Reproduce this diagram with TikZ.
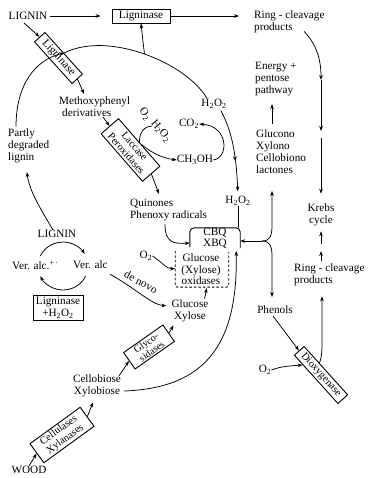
\documentclass[tikz,border=0pt]{standalone}
\usepackage{fontspec}
\setmainfont{Liberation Serif}
\usetikzlibrary{arrows.meta,calc,decorations.markings}
\newcommand{\subtwo}{\textsubscript{2}}
\newcommand{\subthree}{\textsubscript{3}}
\begin{document}
\begin{tikzpicture}[x=1pt,y=-1pt,
  every node/.style={font=\fontsize{11.2}{12}\selectfont, inner sep=0pt},
  txt/.style={align=left},
  ctxt/.style={align=center},
  enzbox/.style={draw, line width=0.9pt, inner sep=1.5pt, align=center},
  conn/.style={line width=0.75pt},
  arr/.style={conn, -{Stealth[length=5pt,width=3.6pt]}},
  hmark/.style={postaction={decorate}, decoration={markings, mark=at position #1 with {\arrow{Stealth[length=5pt,width=3.6pt]}}}},
  dsh/.style={line width=0.9pt, dash pattern=on 2.5pt off 2pt}
]
\fill[white] (0,0) rectangle (368,478);
\useasboundingbox (0,0) rectangle (368,478);

% ---------- nodes ----------
\node (ligtop) at (28,16) {LIGNIN};
\node[enzbox, minimum width=58pt, minimum height=14pt] (ligA) at (141,16) {Ligninase};
\node[txt, anchor=west] (ringA) at (254,22) {Ring - cleavage\\products};
\node[enzbox, minimum width=56pt, minimum height=14pt, rotate=-48] (ligB) at (58.5,58) {Ligninase};
\node[txt, anchor=west] (meth) at (59,106.5) {Methoxyphenyl\\\hspace*{3pt}derivatives};
\node[txt, anchor=west] (partly) at (8,146) {Partly\\degraded\\lignin};
\node[enzbox, minimum width=63pt, minimum height=23pt, rotate=-49, font=\fontsize{10.5}{11}\selectfont] (lac) at (130.5,150) {Laccase\\Peroxidases};
\node[rotate=-55] (o2a) at (145,114) {O\subtwo};
\node[rotate=-50] (h2o2c) at (161,131) {H\subtwo O\subtwo};
\node (co2) at (189,124) {CO\subtwo};
\node (ch3oh) at (195,160) {CH\subthree OH};
\node (h2o2a) at (214,104) {H\subtwo O\subtwo};
\node (h2o2b) at (238,201) {H\subtwo O\subtwo};
\node[txt, anchor=west] (energy) at (255,79) {Energy +\\pentose\\pathway};
\node[txt, anchor=west] (lact) at (256,152) {Glucono\\Xylono\\Cellobiono\\lactones};
\node[ctxt] (krebs) at (321,215) {Krebs\\cycle};
\node[txt, anchor=west] (ringB) at (294,275) {Ring - cleavage\\products};
\node[txt, anchor=west] (quin) at (130,210) {Quinones\\Phenoxy radicals};
\node[ctxt, minimum width=50pt, minimum height=19pt, font=\fontsize{11.2}{10.5}\selectfont] (cbq) at (215,238) {CBQ\\XBQ};
\node[ctxt, font=\fontsize{11.2}{11.5}\selectfont] (oxid) at (201,269.5) {Glucose\\(Xylose)\\oxidases};
\node (o2b) at (146,256) {O\subtwo};
\node[anchor=west] (valcL) at (12,265) {Ver. alc.\textsuperscript{+\,·}};
\node[anchor=west] (valcR) at (73,265) {Ver. alc};
\node (liglow) at (57,234) {LIGNIN};
\node[enzbox, minimum width=50pt, minimum height=25pt] (ligH) at (58,308) {Ligninase\\+H\subtwo O\subtwo};
\node[rotate=-28] (denovo) at (141,282) {de novo};
\node[ctxt] (gx) at (190,311) {Glucose\\Xylose};
\node[enzbox, minimum width=48pt, minimum height=20pt, rotate=35, font=\fontsize{10}{10}\selectfont] (glyco) at (149,347) {Glyco-\\sidases};
\node[ctxt] (cx) at (97,386) {Cellobiose\\Xylobiose};
\node[enzbox, minimum width=62pt, minimum height=23pt, rotate=36, font=\fontsize{10.5}{11}\selectfont] (cell) at (62,435) {Cellulases\\Xylanases};
\node (wood) at (29,470) {WOOD};
\node (phen) at (275,310) {Phenols};
\node[enzbox, minimum width=65pt, minimum height=13pt, rotate=-48, font=\fontsize{10.5}{11}\selectfont] (diox) at (321,375) {Dioxygenase};
\node (o2c) at (265,370) {O\subtwo};

% ---------- coordinates ----------
\coordinate (lt1) at (24,23);
\coordinate (methin) at (84,94);
\coordinate (methout) at (103,117);
\coordinate (quinin) at (159,194);
\coordinate (o2h2) at (152,126);
\coordinate (arcj) at (144.5,54);
\coordinate (partlyin) at (27,172);
\coordinate (circc) at (63,266);
\coordinate (cbqin) at ($(cbq.south east)+(-4,3)$);
\coordinate (ra) at ($(ringA.south west)+(50,-2)$);
\coordinate (k1) at (321,80);
\coordinate (k2) at (321,131);
\coordinate (k3) at (321,138);
\coordinate (r1) at (321,261);
\coordinate (r2) at (321,251);
\coordinate (r3) at (321,244);
\coordinate (dx) at ($(diox.north west)!0.35!(diox.north east)$);
\coordinate (dxs) at ($(diox.south west)!0.2!(diox.south east)$);
\coordinate (rb) at ($(ringB.south west)+(28,10)$);
\coordinate (fork) at (262,241);
\coordinate (up1) at (272,225);
\coordinate (lactin) at (272,191);
\coordinate (dn1) at (272,257);
\coordinate (phenin) at (272,297);
\coordinate (lx1) at ($(lact.north west)+(16,-6)$);
\coordinate (lx2) at ($(energy.south west)+(17,8)$);

% ---------- connectors ----------
\draw[arr, shorten <=3pt, shorten >=11pt] (ligtop) -- (ligA);
\draw[arr, shorten >=15pt] (ligA.east) -- (ligA.east -| ringA.west);
\draw[arr] (lt1) -- (ligB.west);
\draw[arr] (ligB.east) -- (methin);
\draw[arr] (methout) -- (lac.west);
\draw[arr] (lac.east) -- (quinin);
\draw[conn] (lac.north) .. controls (139,132) and (145,126) .. (o2h2);
\draw[arr] ($(lac.north)!0.1!(lac.north east)$) .. controls (152,153) and (162,158) .. (ch3oh.west);
\draw[arr] (ch3oh.east) .. controls (229,158) and (229,126) .. (co2.east);
\draw[arr, hmark=0.6, shorten >=5pt] ($(h2o2a.south)+(7,2)$) .. controls (231,130) and (236,150) .. (h2o2b.north);
\draw[conn] (h2o2b.south) -- (h2o2b.south |- cbq.north);

% big arc from H2O2 to the ligninases
\draw[conn] ($(h2o2a.north)+(-7,-1)$) .. controls (196,80) and (171.75,63.75) .. (arcj)
  .. controls (117.25,44.5) and (87,41.5) .. (ligB.north);
\draw[arr] (arcj) .. controls (143,42) .. (ligA.south);
\draw[arr] ($(partly.north west)+(8,-2)$) .. controls (16,85) and (35,60) .. (ligB.north);
\draw[arr] ($(liglow.north)+(-4,0)$) .. controls (40,208) and (29,190) .. (partlyin);

% veratryl alcohol cycle
\draw[arr] ($(circc)+(-155:25 and 24)$) arc[start angle=-155, end angle=-30, x radius=25, y radius=24];
\draw[arr] ($(circc)+(25:25 and 24)$) arc[start angle=25, end angle=155, x radius=25, y radius=24];
\draw[arr] ($(valcR.south east)+(2,5)$) .. controls (135,288) and (152,305) .. ($(gx.north west)+(-5,6)$);

% CBQ / oxidases
\draw[line width=0.9pt, rounded corners=4pt] ($(cbq.south west)+(0,-1)$) -- (cbq.north west) -- (cbq.north east) -- (cbq.south east);
\draw[dsh, rounded corners=2pt] ($(oxid.north west)+(-6,-3)$) -- ($(oxid.south west)+(-6,2)$) -- ($(oxid.south east)+(8,2)$) -- ($(oxid.north east)+(8,-2)$);
\draw[arr] ($(quin.south west)+(35,3)$) .. controls (165,243) and (174,244) .. ($(cbq.west)+(0,5)$);
\draw[arr] (o2b.east) .. controls (162,262) and (166,269) .. ($(oxid.west)+(-6,-1)$);
\draw[arr] ($(gx.north east)+(-4,-1)$) -- ($(oxid.south east)+(-14,3)$);
\draw[arr] ($(cx.east)+(3,5)$) .. controls (205,388) and (238,345) .. (cbqin);

% fork from CBQ
\draw[arr] (fork) -- (fork -| cbq.east);
\draw[arr] (fork) .. controls (270,241) and (272,236) .. (up1) -- (lactin);
\draw[arr] (fork) .. controls (270,241) and (272,246) .. (dn1) -- (phenin);
\draw[arr] (lx1) -- (lx2);

% wood chain
\draw[arr] (wood.north) -- (cell.west);
\draw[arr] (cell.east) -- ($(cx.south)+(-4,5)$);
\draw[arr] ($(cx.north east)+(-2,1)$) -- (glyco.west);
\draw[arr] (glyco.east) -- ($(gx.south west)+(2,3)$);

% right column
\draw[arr] (ra) .. controls (317,45) and (321,60) .. (k1);
\draw[arr] (k1) -- (k2);
\draw[arr, shorten >=10pt] (k3) -- (krebs.north);
\draw[arr] (r1) -- (r2);
\draw[arr, shorten >=5pt] (r3) -- (krebs.south);
\draw[arr] (dx) .. controls (322,356) and (322,350) .. (322,340) -- (rb);
\draw[arr] ($(phen.south)+(-2,2)$) -- (diox.west);
\draw[arr] (o2c.east) .. controls (282,366) and (290,366) .. (dxs);
\end{tikzpicture}
\end{document}
